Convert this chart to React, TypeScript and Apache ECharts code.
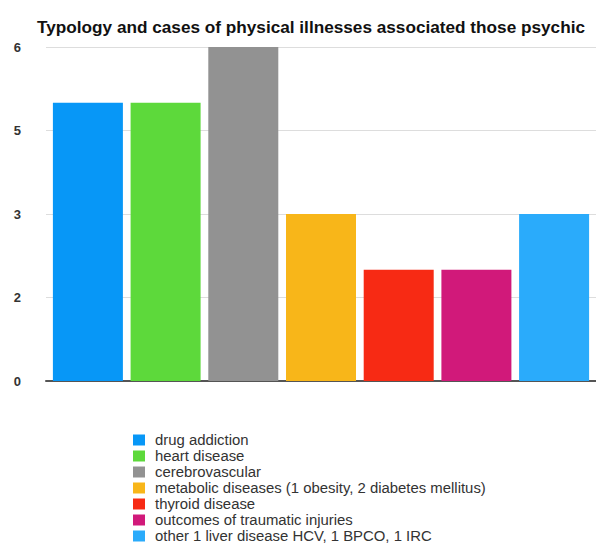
import React, { useEffect, useRef } from "react";
import * as echarts from "echarts";

const categories = ["cases"];
const seriesNames = [
  "drug addiction",
  "heart disease",
  "cerebrovascular",
  "metabolic diseases (1 obesity, 2 diabetes mellitus)",
  "thyroid disease",
  "outcomes of traumatic injuries",
  "other 1 liver disease HCV, 1 BPCO, 1 IRC",
];
const seriesValues = [5, 5, 6, 3, 2, 2, 3];
const seriesColors = ["#0797f7", "#5dd93b", "#929292", "#f8b619", "#f72a14", "#d1197a", "#2aabfb"];

export default function App() {
  const ref = useRef<HTMLDivElement>(null);
  useEffect(() => {
    const chart = echarts.init(ref.current!, null, { renderer: "svg" });
    chart.setOption({
      animation: false,
      backgroundColor: "#ffffff",
      title: {
        text: "Typology and cases of physical illnesses associated those psychic",
        left: 298,
        textAlign: "center",
        top: 5,
        textStyle: { fontFamily: "Liberation Sans", fontSize: 17.2, fontWeight: "bold", color: "#111" },
      },
      legend: {
        orient: "vertical",
        left: 125,
        top: 424,
        height: 200,
        padding: 0,
        itemWidth: 12,
        itemHeight: 11,
        itemGap: 0,
        icon: "rect",
        data: seriesNames,
        textStyle: { fontFamily: "Liberation Sans", fontSize: 14.9, lineHeight: 16, color: "#333", padding: [0, 0, 0, 5] },
      },
      grid: { left: 38, right: -9, top: 39, bottom: 163 },
      xAxis: {
        type: "category",
        data: categories,
        axisLine: { lineStyle: { color: "#555", width: 2 } },
        axisTick: { show: false },
        axisLabel: { show: false },
      },
      yAxis: {
        type: "value",
        min: 0,
        max: 6,
        interval: 1.5,
        axisLabel: {
          formatter: (v: number) => String(Math.round(v)),
          fontFamily: "Liberation Sans",
          fontSize: 13,
          fontWeight: "bold",
          color: "#333",
          margin: 25,
        },
        splitLine: { lineStyle: { color: "#dddddd" } },
        axisLine: { show: false },
        axisTick: { show: false },
      },
      series: seriesNames.map((name, i) => ({
        name,
        type: "bar",
        data: [seriesValues[i]],
        barWidth: 70,
        barGap: "11%",
        itemStyle: { color: seriesColors[i] },
      })),
    });
    return () => chart.dispose();
  }, []);
  return <div ref={ref} style={{ width: 588, height: 536 }} />;
}
